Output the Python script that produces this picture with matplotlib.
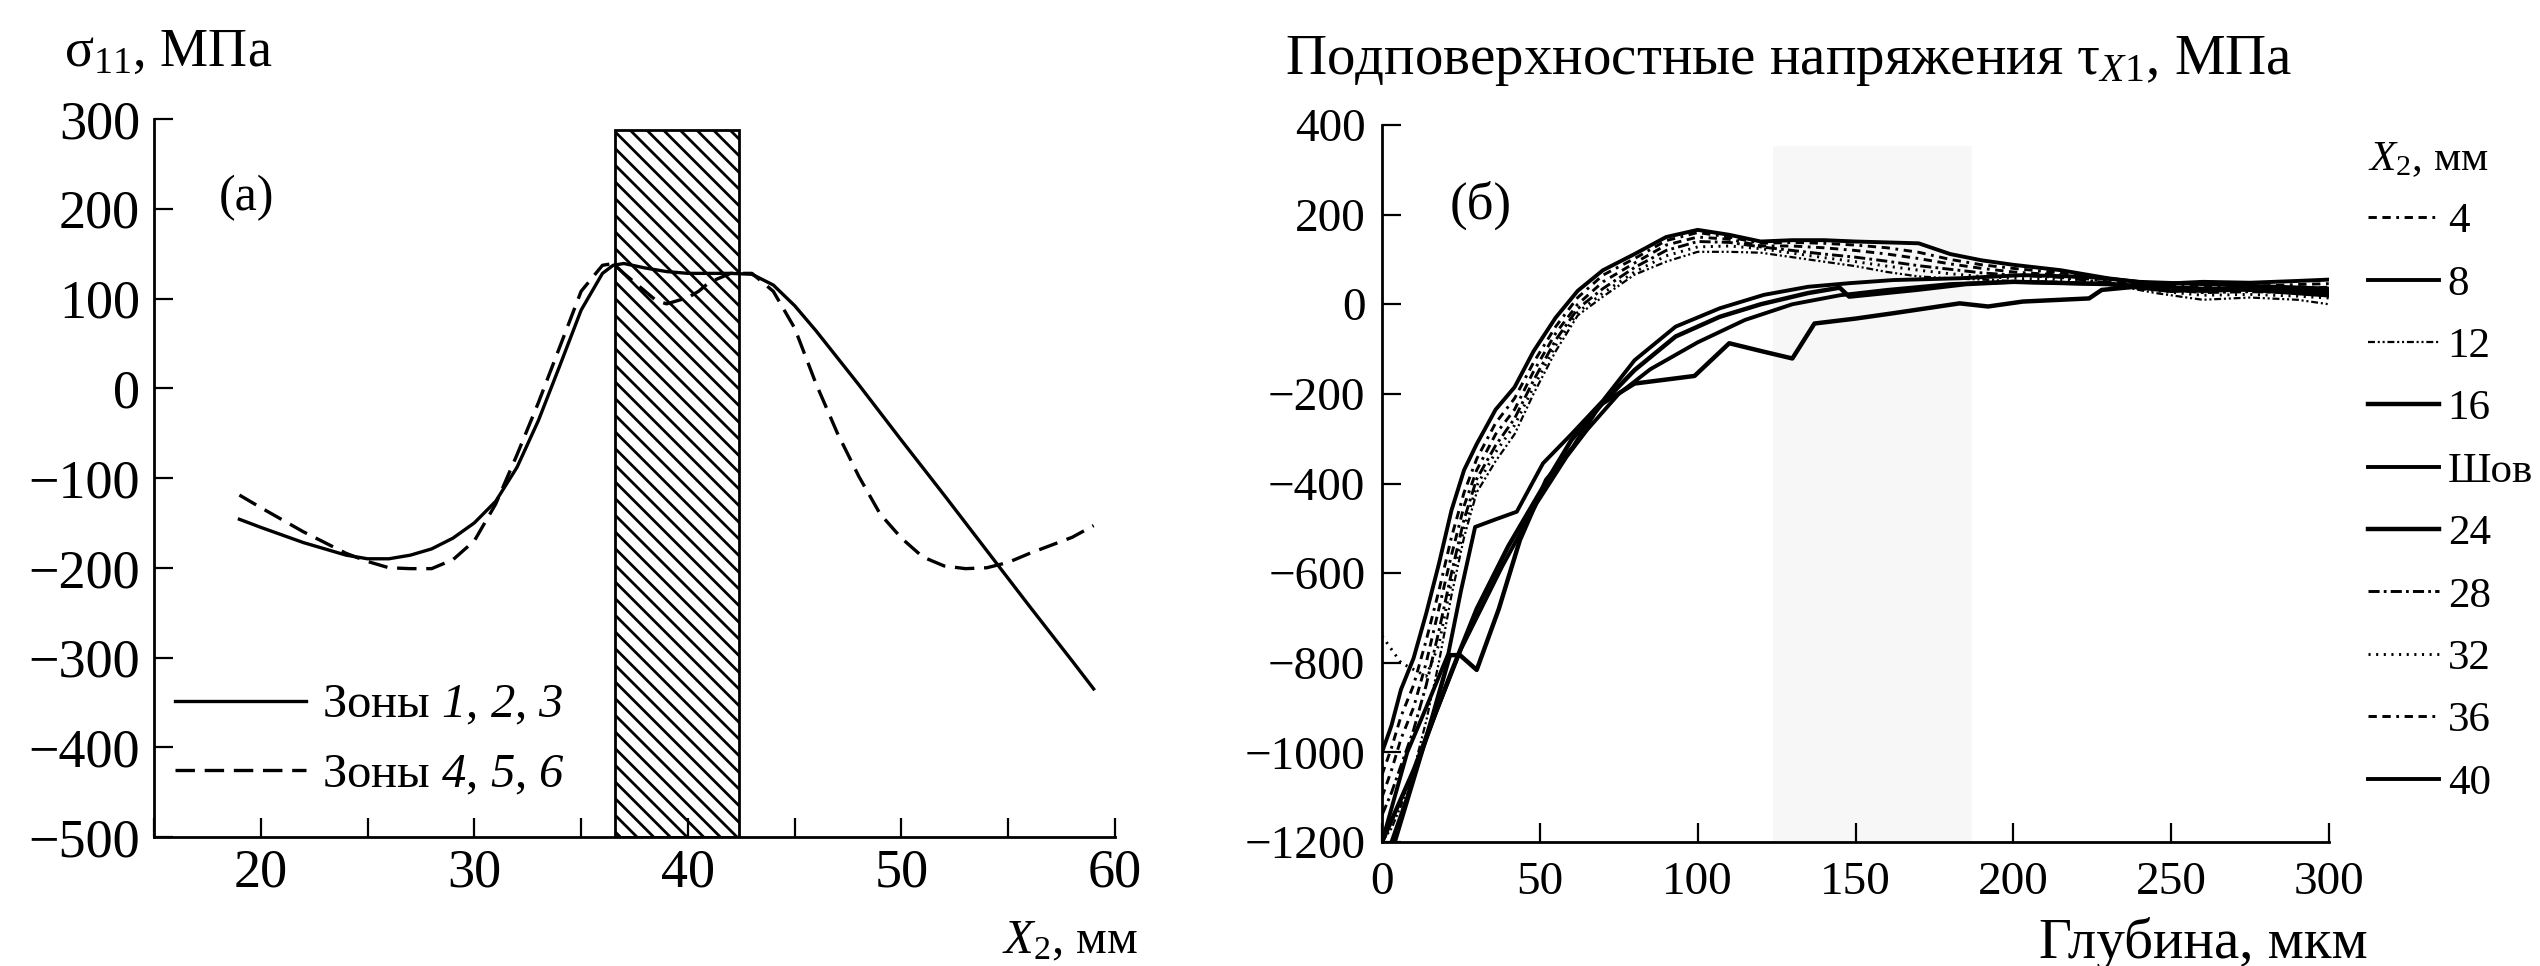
import matplotlib
matplotlib.use('Agg')
import matplotlib.pyplot as plt
from matplotlib.patches import Rectangle
from matplotlib.lines import Line2D
from matplotlib.ticker import MultipleLocator

plt.rcParams['font.family'] = ['Liberation Serif', 'DejaVu Serif']
plt.rcParams['mathtext.fontset'] = 'custom'
plt.rcParams['mathtext.rm'] = 'Liberation Serif'
plt.rcParams['mathtext.it'] = 'Liberation Serif:italic'
plt.rcParams['mathtext.bf'] = 'Liberation Serif:bold'
# italic digits via \mathcal (mathtext sets digits upright inside \mathit)
plt.rcParams['mathtext.cal'] = 'Liberation Serif:italic'
plt.rcParams['lines.scale_dashes'] = False
plt.rcParams['hatch.linewidth'] = 2.0
plt.rcParams['axes.linewidth'] = 2.0

# ---- panel (a): sigma_11 along X2 ----
x_zone123 = [19, 20, 22, 24, 25, 26, 27, 28, 29, 30, 31, 32, 33, 34, 35, 36, 36.5, 37, 38, 39, 40,
             42, 43, 44, 45, 46, 47, 48, 50, 52, 54, 56, 58, 59]
s_zone123 = [-146, -155, -172, -186, -190, -190, -186, -179, -167, -150, -126, -88, -36, 25, 87, 128, 137,
             139, 134, 130, 128, 128, 127, 115, 92, 64, 34, 4, -58, -119, -181, -243, -304, -335]

x_zone456 = [19, 20, 22, 24, 25, 26, 27, 28, 29, 30, 31, 32, 33, 34, 35, 36, 36.5, 37, 38, 38.5, 39,
             40, 40.5, 41, 42, 43, 44, 45, 46, 47, 48, 49, 50, 51, 52, 53, 54, 55, 56, 58, 59]
s_zone456 = [-119, -133, -160, -184, -193, -200, -201, -201, -191, -170, -129, -74, -16, 46, 108, 137, 139,
             128, 108, 98, 94, 101, 108, 118, 128, 128, 108, 67, 5, -50, -98, -140, -167, -188, -198,
             -201, -200, -194, -184, -166, -153]

zone_left, zone_right, zone_top = 36.6, 42.4, 288

# ---- panel (б): subsurface stress vs depth ----
depth_a = [0, 3, 6, 10, 14, 18, 22, 26, 30, 36, 42, 48, 55, 62, 70, 80, 90, 100, 110, 120, 130, 140,
           150, 160, 170, 180, 190, 200, 215, 230, 245, 260, 275, 290, 300]
tau_8 = [-1000, -940, -860, -790, -690, -580, -460, -370, -312, -235, -185, -105, -30, 30, 76, 112, 150,
         166, 155, 140, 143, 143, 140, 138, 136, 112, 98, 88, 76, 58, 45, 50, 48, 52, 55]
tau_36 = [-1050, -990, -920, -850, -750, -640, -520, -420, -345, -265, -210, -130, -50, 15, 65, 102, 142,
          160, 150, 136, 138, 136, 132, 126, 116, 100, 88, 80, 70, 55, 42, 42, 40, 44, 46]
tau_4 = [-1100, -1040, -970, -900, -800, -680, -560, -450, -370, -290, -235, -150, -65, 0, 50, 92, 132,
         150, 145, 130, 130, 126, 120, 112, 102, 90, 80, 72, 65, 50, 38, 30, 32, 36, 38]
tau_28 = [-1140, -1090, -1030, -950, -850, -730, -600, -480, -390, -315, -255, -170, -80, -10, 35, 82, 120,
          140, 138, 128, 120, 112, 105, 96, 86, 78, 70, 65, 60, 48, 35, 26, 28, 26, 22]
tau_32 = [-740, -770, -800, -815, -830, -760, -620, -500, -405, -330, -270, -185, -92, -18, 25, 72, 108,
          128, 130, 124, 114, 104, 95, 85, 76, 68, 62, 58, 55, 46, 30, 20, 22, 18, 14]
tau_12 = [-1200, -1170, -1120, -1040, -930, -800, -650, -520, -420, -350, -290, -200, -105, -25, 17, 66, 95,
          117, 117, 115, 105, 95, 85, 72, 62, 58, 55, 52, 50, 45, 25, 10, 15, 10, 0]

depth_seam = [0, 4, 8, 14, 21, 25, 29.5, 36, 42.7, 51, 60, 70, 80, 93, 107, 121, 135, 148, 162, 183, 203,
              224, 240, 260, 280, 300]
tau_seam = [-1200, -1100, -1000, -900, -780, -640, -497, -480, -463, -355, -290, -215, -125, -50, -9, 21,
            39, 47, 54, 58, 65, 61, 50, 45, 40, 35]

depth_16 = [0, 5, 10, 16, 22, 30, 40, 50, 60, 70, 80, 93, 107, 120, 135, 145, 148, 155, 169, 185, 200, 230,
            250, 270, 300]
tau_16 = [-1200, -1120, -1040, -930, -820, -680, -540, -420, -303, -220, -147, -72, -28, 0, 25, 37, 17, 22,
          32, 45, 50, 45, 30, 35, 20]

depth_24 = [4, 10, 16, 21.5, 24.7, 30, 37, 43.7, 52, 60.6, 69, 80, 99, 110, 121, 130, 137, 150, 162, 183,
            192, 203, 224, 228, 240, 260, 280, 300]
tau_24 = [-1200, -1060, -920, -783, -783, -816, -680, -526, -392, -318, -225, -177, -160, -87, -106, -121,
          -43, -32, -20, 2, -5, 6, 13, 32, 40, 30, 35, 25]

depth_40 = [3, 8, 12, 17, 25, 38, 49, 58.5, 65, 75, 85, 100, 115, 130, 145, 160, 180, 200, 230, 260, 300]
tau_40 = [-1200, -1100, -1010, -913, -770, -586, -444, -340, -280, -200, -145, -85, -35, 0, 20, 32, 45, 50,
          45, 35, 30]

legend_labels = ['4', '8', '12', '16', 'Шов', '24', '28', '32', '36', '40']

fig = plt.figure(figsize=(25.4, 9.66), dpi=100)
fig.patch.set_facecolor('white')

ax1 = fig.add_axes([154 / 2540, 1 - 837 / 966, (1115 - 154) / 2540, (837 - 119) / 966])
ax2 = fig.add_axes([1382 / 2540, 1 - 842 / 966, (2329 - 1382) / 2540, (842 - 125) / 966])

for ax in (ax1, ax2):
    ax.spines['top'].set_visible(False)
    ax.spines['right'].set_visible(False)
    ax.tick_params(which='both', direction='in', length=14, width=1.6)

# panel (a)
ax1.add_patch(Rectangle((zone_left, -500), zone_right - zone_left, zone_top + 500,
                        facecolor='white', edgecolor='black', hatch='\\\\', linewidth=2, zorder=1))
ax1.plot(x_zone123, s_zone123, color='black', lw=2.4, zorder=3,
         label='Зоны $\\mathcal{1}$, $\\mathcal{2}$, $\\mathcal{3}$')
ax1.plot(x_zone456, s_zone456, color='black', lw=2.4, ls=(0, (14, 7)), zorder=3,
         label='Зоны $\\mathcal{4}$, $\\mathcal{5}$, $\\mathcal{6}$')
ax1.set_xlim(15, 60)
ax1.set_ylim(-500, 300)
ax1.set_xticks([20, 30, 40, 50, 60])
ax1.xaxis.set_minor_locator(MultipleLocator(5))
ax1.set_yticks(range(-500, 301, 100))
ax1.tick_params(axis='both', labelsize=39)
ax1.tick_params(axis='x', pad=8)
ax1.tick_params(axis='y', pad=10)
ax1.legend(loc='lower left', bbox_to_anchor=(175 / 2540, 1 - 797 / 966), bbox_transform=fig.transFigure,
           frameon=False, fontsize=35, handlelength=2.7, handletextpad=0.33, labelspacing=0.52,
           borderpad=0, borderaxespad=0)

# panel (б)
ax2.add_patch(Rectangle((124, -1200), 63, 1553, facecolor='#f7f7f7', edgecolor='none', zorder=0))
dash_4 = (0, (6, 4, 6, 4, 2, 4))
styles = {
    '4': dict(x=depth_a, y=tau_4, lw=2.1, ls=dash_4),
    '8': dict(x=depth_a, y=tau_8, lw=2.8, ls='-'),
    '12': dict(x=depth_a, y=tau_12, lw=1.6, ls=(0, (5, 2, 1.5, 2, 1.5, 2))),
    '16': dict(x=depth_16, y=tau_16, lw=3.2, ls='-'),
    'Шов': dict(x=depth_seam, y=tau_seam, lw=2.8, ls='-'),
    '24': dict(x=depth_24, y=tau_24, lw=3.2, ls='-'),
    '28': dict(x=depth_a, y=tau_28, lw=2.1, ls=(0, (8, 3, 2, 3))),
    '32': dict(x=depth_a, y=tau_32, lw=2.1, ls=(0, (1.5, 4))),
    '36': dict(x=depth_a, y=tau_36, lw=2.1, ls=dash_4),
    '40': dict(x=depth_40, y=tau_40, lw=2.8, ls='-'),
}
handles = []
for name in legend_labels:
    st = styles[name]
    ax2.plot(st['x'], st['y'], color='black', lw=st['lw'], ls=st['ls'], zorder=3)
    handles.append(Line2D([], [], color='black', lw=st['lw'], ls=st['ls']))

ax2.set_xlim(0, 300)
ax2.set_ylim(-1200, 400)
ax2.set_xticks(range(0, 301, 50))
ax2.set_yticks(range(-1200, 401, 200))
ax2.tick_params(axis='both', labelsize=34)
ax2.tick_params(axis='x', pad=14)
ax2.tick_params(axis='y', pad=12)
leg = ax2.legend(handles, legend_labels, loc='upper left', bbox_to_anchor=(2368 / 2540, 1 - 140 / 966),
                 bbox_transform=fig.transFigure, frameon=False, fontsize=31, title='$X_2$, мм',
                 title_fontsize=31, alignment='left', handlelength=1.65, handletextpad=0.2,
                 labelspacing=0.54, borderpad=0, borderaxespad=0)

# titles and axis labels
fig.text(64 / 2540, 1 - 66 / 966, 'σ$_{11}$, МПа', fontsize=39, va='baseline')
fig.text(219 / 2540, 1 - 198 / 966, '(а)', fontsize=36, va='center')
fig.text(1138 / 2540, 1 - 953 / 966, '$X_2$, мм', fontsize=35, ha='right', va='baseline')
fig.text(1285 / 2540, 1 - 74 / 966, 'Подповерхностные напряжения τ$_{X1}$, МПа', fontsize=41, va='baseline')
fig.text(1450 / 2540, 1 - 205 / 966, '(б)', fontsize=38, va='center')
fig.text(2368 / 2540, 1 - 958 / 966, 'Глубина, мкм', fontsize=41, ha='right', va='baseline')

fig.savefig('out.png', dpi=100, facecolor='white')
